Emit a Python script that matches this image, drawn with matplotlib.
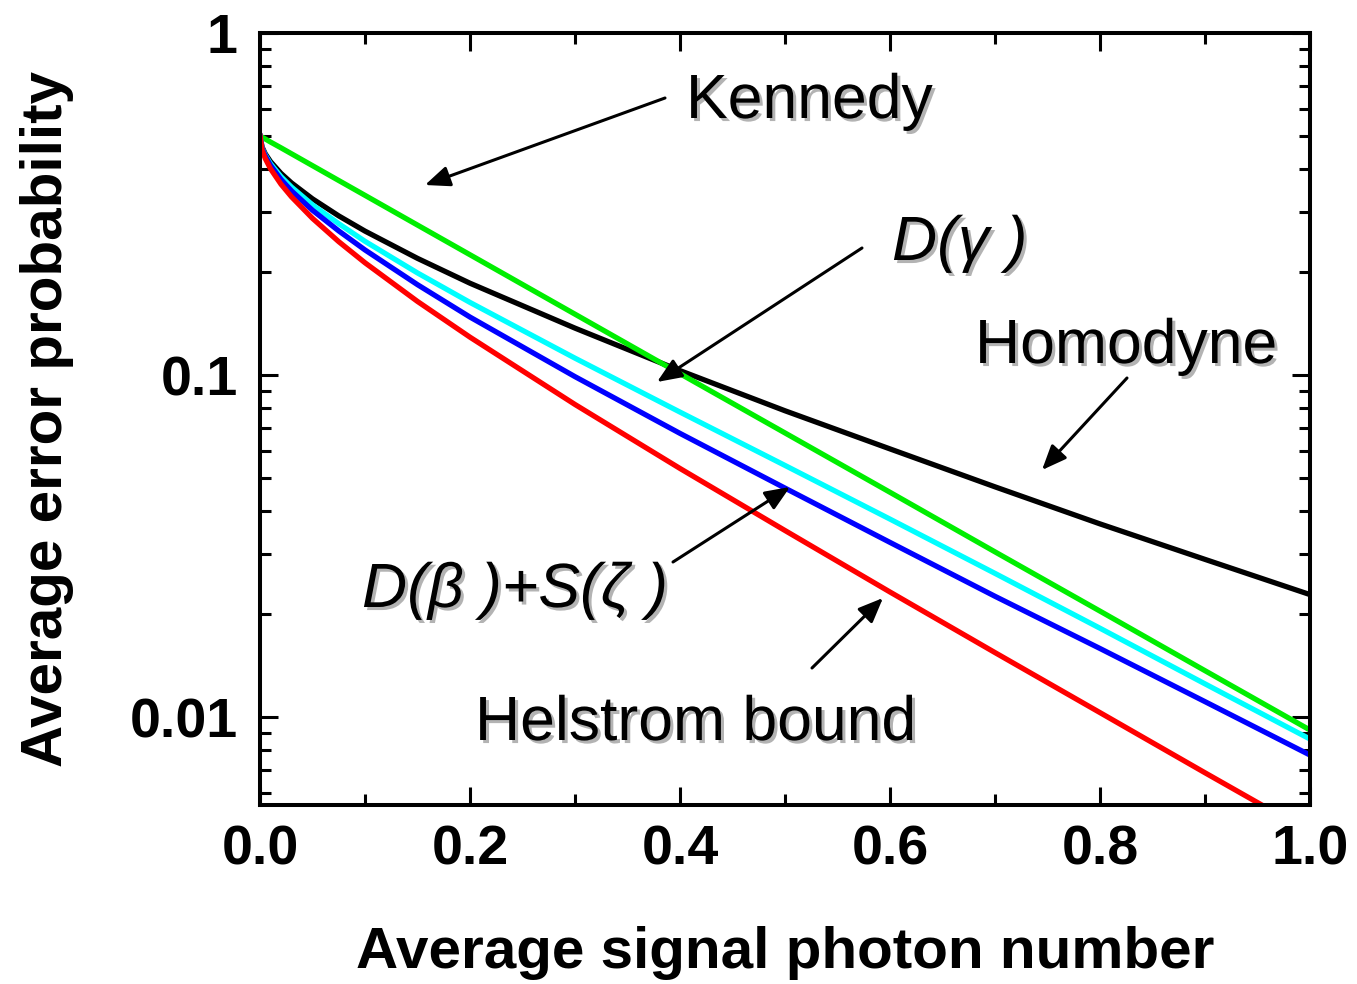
import matplotlib
matplotlib.use("Agg")
import matplotlib.pyplot as plt
import matplotlib.patheffects as pe
from matplotlib.ticker import FixedLocator, NullFormatter, LogLocator, MultipleLocator

# ---------------- data ----------------
n_photon = [0.0, 0.002, 0.005, 0.01, 0.02, 0.03, 0.05, 0.075, 0.1, 0.15, 0.2, 0.3, 0.4,
            0.5, 0.6, 0.7, 0.8, 0.9, 1.0]

kennedy = [0.5, 0.496, 0.490, 0.480, 0.4616, 0.4435, 0.4094, 0.3704, 0.3352, 0.2744, 0.2247,
           0.1506, 0.1009, 0.0677, 0.0454, 0.0304, 0.0204, 0.01366, 0.00916]
homodyne = [0.5, 0.4643, 0.4437, 0.4207, 0.3886, 0.3645, 0.3274, 0.2919, 0.2635, 0.2193,
            0.1855, 0.1371, 0.1030, 0.0786, 0.0608, 0.0471, 0.0367, 0.0289, 0.0228]
displacement_gamma = [0.5, 0.4605, 0.4396, 0.4148, 0.3803, 0.3544, 0.3145, 0.2770, 0.2460,
                      0.1988, 0.1630, 0.1120, 0.0779, 0.0544, 0.0379, 0.0263, 0.01818,
                      0.01250, 0.00862]
disp_squeeze = [0.5, 0.4590, 0.4370, 0.4100, 0.3730, 0.3454, 0.3032, 0.2638, 0.2321, 0.1837,
                0.1477, 0.0989, 0.0675, 0.0467, 0.0324, 0.02254, 0.01586, 0.01109, 0.00774]
helstrom = [0.5, 0.4554, 0.4296, 0.401, 0.3613, 0.3319, 0.2871, 0.2454, 0.2129, 0.1641,
            0.1290, 0.0820, 0.0533, 0.0351, 0.0232, 0.01543, 0.01030, 0.00687, 0.00460]

y_tick_values = [0.01, 0.1, 1]
y_tick_labels = ["0.01", "0.1", "1"]
x_tick_values = [0.0, 0.2, 0.4, 0.6, 0.8, 1.0]
x_tick_labels = ["0.0", "0.2", "0.4", "0.6", "0.8", "1.0"]

# ---------------- figure ----------------
W, H = 1357, 984
fig = plt.figure(figsize=(W / 100, H / 100), dpi=100)
ax = fig.add_axes([260 / W, 1 - 805 / H, 1050 / W, 772 / H])

plt.rcParams["font.family"] = ["Liberation Sans", "DejaVu Sans"]

lw = 3.8
ax.plot(n_photon, homodyne, color="black", lw=lw)
ax.plot(n_photon, kennedy, color="#00ee00", lw=lw)
ax.plot(n_photon, displacement_gamma, color="#00ffff", lw=lw)
ax.plot(n_photon, disp_squeeze, color="#0000ff", lw=lw)
ax.plot(n_photon, helstrom, color="#ff0000", lw=lw)

ax.set_yscale("log")
ax.set_xlim(0, 1)
ax.set_ylim(0.00553, 1)

ax.yaxis.set_major_locator(FixedLocator(y_tick_values))
ax.set_yticklabels(y_tick_labels)
ax.yaxis.set_minor_locator(LogLocator(base=10, subs=[2, 3, 4, 5, 6, 7, 8, 9]))
ax.yaxis.set_minor_formatter(NullFormatter())
ax.set_xticks(x_tick_values)
ax.set_xticklabels(x_tick_labels)
ax.xaxis.set_minor_locator(MultipleLocator(0.1))

for sp in ax.spines.values():
    sp.set_linewidth(2.9)

ax.tick_params(which="both", direction="in", top=True, right=True, width=2.2)
ax.tick_params(which="major", length=13)
ax.tick_params(which="minor", length=8)
ax.tick_params(axis="y", which="major", pad=16)
ax.tick_params(axis="x", which="major", pad=14)
for lab in ax.get_xticklabels() + ax.get_yticklabels():
    lab.set_fontsize(40)
    lab.set_fontweight("bold")
    lab.set_family("Liberation Sans")

ax.set_xlabel("Average signal photon number", fontsize=42, fontweight="bold",
              family="Liberation Sans", labelpad=36)
ax.set_ylabel("Average error probability", fontsize=42, fontweight="bold",
              family="Liberation Sans", labelpad=40)

# ---------------- annotations ----------------
shadow = [pe.withSimplePatchShadow(offset=(2.2, -2.2), shadow_rgbFace="#a0a0a0", alpha=0.8)]


def ftext(px, py, s, **kw):
    fig.text(px / W, 1 - py / H, s, fontsize=45, ha="left", va="baseline",
             family="Liberation Sans", path_effects=shadow, **kw)


def farrow(x0, y0, x1, y1):
    fig.add_artist(matplotlib.patches.FancyArrowPatch(
        (x0 / W, 1 - y0 / H), (x1 / W, 1 - y1 / H), transform=fig.transFigure,
        arrowstyle="-|>,head_length=0.6,head_width=0.25", mutation_scale=25,
        lw=2.2, color="black", shrinkA=0, shrinkB=0))


ftext(686, 118, "Kennedy")
ftext(975, 363, "Homodyne")
ftext(475, 740, "Helstrom bound")
ftext(892, 260, "D(γ )", style="italic")
ftext(362, 607, "D(β )+S(ζ )", style="italic")

farrow(665, 98, 425, 185)
farrow(862, 248, 657, 382)
farrow(1127, 378, 1042, 470)
farrow(673, 562, 790, 487)
farrow(812, 668, 883, 598)

fig.savefig("out.png", dpi=100)
